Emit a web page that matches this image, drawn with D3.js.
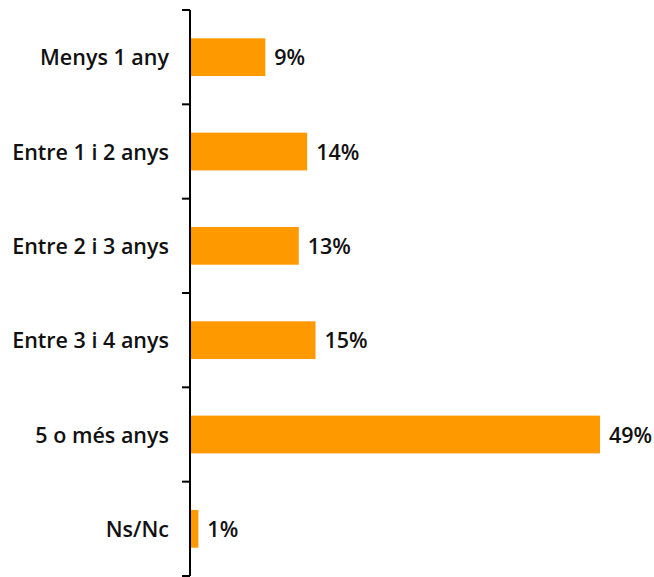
<!DOCTYPE html>
<html><head><meta charset="utf-8">
<script src="https://cdn.jsdelivr.net/npm/d3@7"></script>
<style>body{margin:0;background:#fff}</style>
</head><body>
<svg id="c" width="654" height="577"></svg>
<script>
const categories = ["Menys 1 any","Entre 1 i 2 anys","Entre 2 i 3 anys","Entre 3 i 4 anys","5 o més anys","Ns/Nc"];
const values = [9,14,13,15,49,1];
const valueLabels = ["9%","14%","13%","15%","49%","1%"];

(function(){
const svg = d3.select("#c");
const x0 = 190, yTop = 10, yBottom = 576;
const y = d3.scaleBand().domain(categories).range([yTop, yBottom]).paddingInner(0.6).paddingOuter(0.3);
const x = d3.scaleLinear().domain([0, 49]).range([x0, 600]);

svg.selectAll("rect.bar").data(values).join("rect")
  .attr("x", x(0)).attr("y", (d,i)=>y(categories[i]))
  .attr("width", d=>x(d)-x(0)).attr("height", y.bandwidth())
  .attr("fill", "#FF9900");

const font = "'Open Sans', sans-serif";
const fs = 21.5;
svg.selectAll("text.val").data(values).join("text")
  .attr("x", d=>x(d)+9).attr("y", (d,i)=>y(categories[i])+y.bandwidth()/2)
  .attr("dy","0.38em").attr("font-family",font).attr("font-weight",600).attr("font-size",fs)
  .attr("fill","#111").text((d,i)=>valueLabels[i]);

const g = svg.append("g");
g.append("line").attr("x1",x0).attr("x2",x0).attr("y1",yTop).attr("y2",yBottom).attr("stroke","#000").attr("stroke-width",2);
const tickYs = d3.range(categories.length+1).map(i=>yTop + i*(yBottom-yTop)/categories.length);
g.selectAll("line.t").data(tickYs).join("line")
  .attr("x1",x0-8).attr("x2",x0).attr("y1",d=>d).attr("y2",d=>d).attr("stroke","#000").attr("stroke-width",2);
g.selectAll("text.cat").data(categories).join("text")
  .attr("x",169).attr("y",d=>y(d)+y.bandwidth()/2).attr("dy","0.38em")
  .attr("text-anchor","end").attr("font-family",font).attr("font-weight",600).attr("font-size",fs)
  .attr("fill","#111").text(d=>d);
})();
</script>
</body></html>
